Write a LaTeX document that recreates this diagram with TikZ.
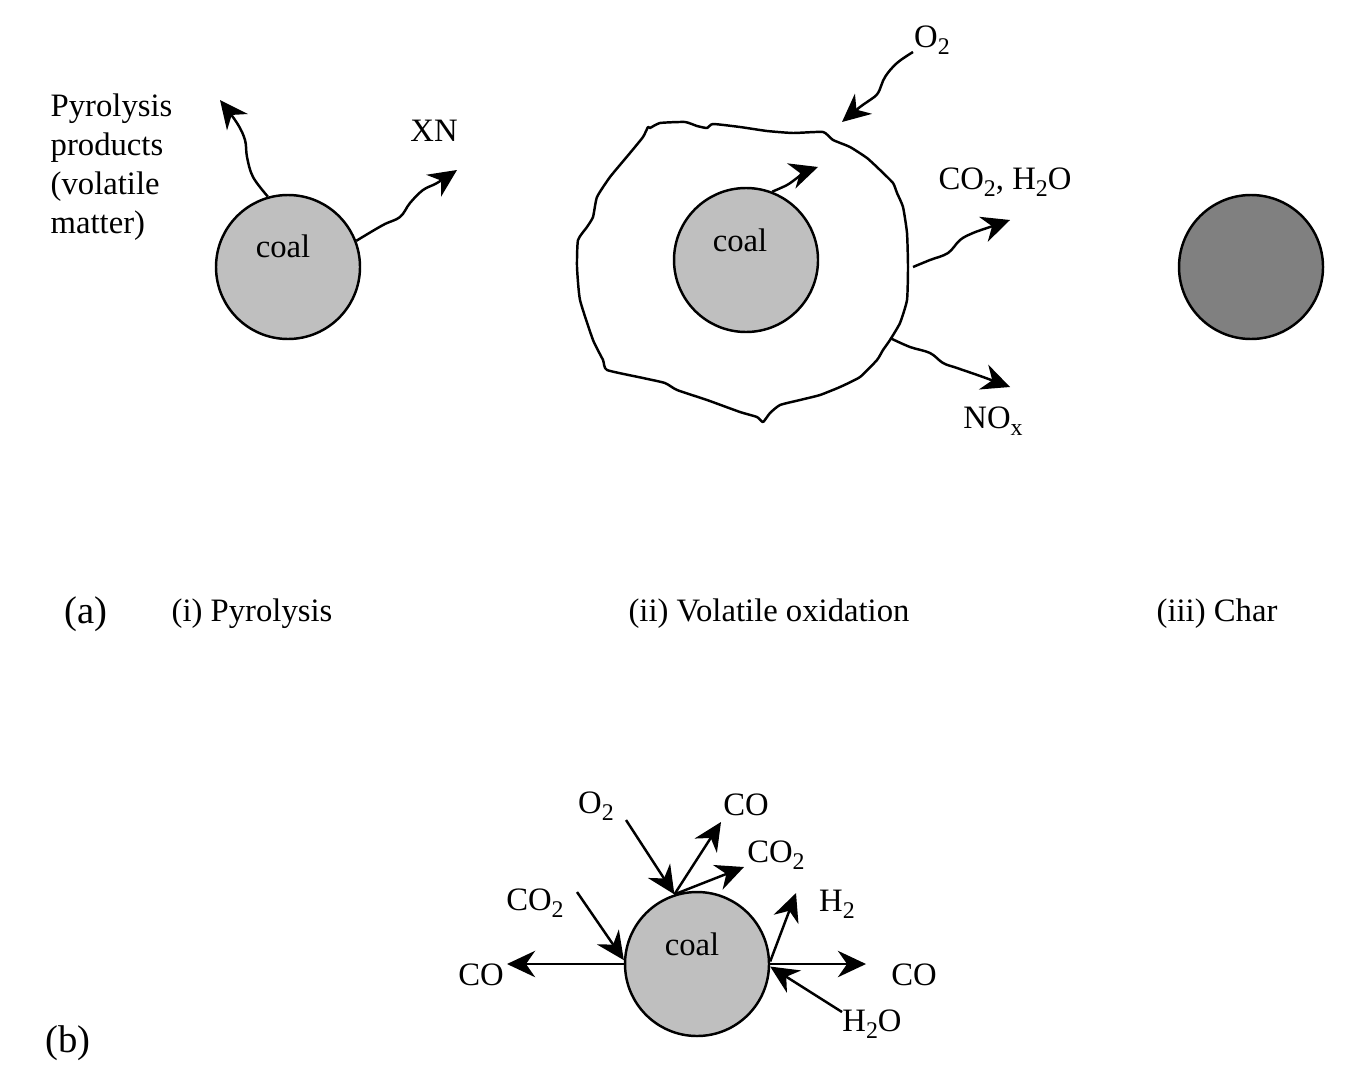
\documentclass[tikz,border=0pt]{standalone}
\usepackage{fontspec}
\setmainfont{Liberation Serif}
\usetikzlibrary{arrows.meta}

\newcommand{\chsub}[1]{\raisebox{-0.45ex}{\fontsize{6.8}{7}\selectfont #1}}

\begin{document}
\begin{tikzpicture}[
  grain/.style={circle, draw, line width=0.7pt, fill=black!25, minimum size=1.44cm, inner sep=0pt},
  arr/.style={-{Stealth[length=8pt, width=7.5pt, inset=2.6pt]}, line width=0.7pt},
  txt/.style={font=\fontsize{9.3}{11.1}\selectfont, inner sep=0pt},
  big/.style={font=\fontsize{11}{13}\selectfont, inner sep=0pt}
]
\useasboundingbox (0,0) rectangle (13.49,10.70);

% (i) pyrolysis
\node[grain] (coalI) at (2.88,8.03) {};
\node[txt] (coalItxt) at (2.83,8.24) {coal};
\node[txt, align=left, anchor=west] (pyroProd) at (0.50,9.03) {Pyrolysis\\products\\(volatile\\matter)};
\node[txt] (xn) at (4.34,9.39) {XN};
\coordinate (pyroTip) at (2.20,9.70);
\coordinate (xnTip) at (4.57,9.00);

\draw[arr] plot[smooth, tension=0.6] coordinates {(coalI.106) (2.53,8.93) (2.47,9.13) (2.45,9.30) (2.37,9.47) (pyroTip)};
\draw[arr] plot[smooth, tension=0.6] coordinates {(coalI.21) (3.83,8.45) (4.00,8.53) (4.10,8.67) (4.23,8.80) (4.37,8.87) (xnTip)};

% (ii) volatile oxidation
\node[grain] (coalII) at (7.46,8.10) {};
\node[txt] (coalIItxt) at (7.40,8.30) {coal};
\draw[line width=0.7pt, line join=round] plot[smooth cycle, tension=0.3] coordinates {
  (6.50,9.42) (6.60,9.47) (6.85,9.48) (6.97,9.44) (7.07,9.42) (7.13,9.46) (7.40,9.43)
  (7.67,9.39) (7.93,9.37) (8.23,9.38) (8.33,9.30) (8.50,9.23) (8.67,9.12) (8.80,9.00)
  (8.93,8.87) (8.97,8.77) (9.03,8.63) (9.07,8.37) (9.08,8.03) (9.07,7.70) (9.00,7.47)
  (8.90,7.30) (8.83,7.20) (8.77,7.10) (8.60,6.93) (8.40,6.83) (8.20,6.75) (8.00,6.70)
  (7.80,6.65) (7.70,6.57) (7.63,6.48) (7.57,6.53) (7.40,6.58) (7.07,6.70) (6.77,6.80)
  (6.65,6.87) (6.43,6.92) (6.07,7.00) (6.03,7.10) (5.93,7.30) (5.80,7.70) (5.77,8.03)
  (5.78,8.30) (5.87,8.43) (5.93,8.53) (5.97,8.73) (6.10,8.93) (6.30,9.17) (6.43,9.33)
  (6.48,9.43)};
\node[txt] (o2) at (9.32,10.30) {O\chsub{2}};
\node[txt] (co2h2o) at (10.05,8.88) {CO\chsub{2}, H\chsub{2}O};
\node[txt] (nox) at (9.93,6.49) {NO\chsub{x}};
\coordinate (innerTip) at (8.18,9.03);
\coordinate (o2Start) at (9.13,10.18);
\coordinate (o2Tip) at (8.42,9.48);
\coordinate (shellE) at (9.13,8.03);
\coordinate (co2Tip) at (10.10,8.50);
\coordinate (shellSE) at (8.90,7.32);
\coordinate (noxTip) at (10.10,6.83);

\draw[arr] plot[smooth, tension=0.6] coordinates {(coalII.69) (7.87,8.85) (7.97,8.92) (8.05,8.98) (innerTip)};
\draw[arr] plot[smooth, tension=0.6] coordinates {(o2Start) (8.97,10.07) (8.85,9.93) (8.78,9.77) (8.70,9.70) (8.60,9.63) (o2Tip)};
\draw[arr] plot[smooth, tension=0.6] coordinates {(shellE) (9.30,8.10) (9.48,8.17) (9.60,8.30) (9.73,8.37) (9.90,8.43) (co2Tip)};
\draw[arr] plot[smooth, tension=0.6] coordinates {(shellSE) (9.10,7.23) (9.30,7.17) (9.43,7.07) (9.57,7.02) (9.83,6.93) (noxTip)};

% (iii) char
\node[grain, fill=black!50] (charIII) at (12.51,8.03) {};

% captions
\node[big] (capA) at (0.86,4.56) {(a)};
\node[txt] (capI) at (2.52,4.56) {(i) Pyrolysis};
\node[txt] (capII) at (7.69,4.56) {(ii) Volatile oxidation};
\node[txt] (capIII) at (12.17,4.56) {(iii) Char};
\node[big] (capB) at (0.68,0.27) {(b)};

% (b) char gasification
\node[grain] (coalG) at (6.97,1.06) {};
\node[txt] (coalGtxt) at (6.92,1.26) {coal};
\node[txt] (o2G) at (5.96,2.64) {O\chsub{2}};
\node[txt] (coTop) at (7.46,2.65) {CO};
\node[txt] (co2Top) at (7.76,2.15) {CO\chsub{2}};
\node[txt] (co2Left) at (5.35,1.67) {CO\chsub{2}};
\node[txt] (coLeft) at (4.81,0.95) {CO};
\node[txt] (h2G) at (8.37,1.66) {H\chsub{2}};
\node[txt] (coRight) at (9.14,0.95) {CO};
\node[txt] (h2oG) at (8.72,0.46) {H\chsub{2}O};
\coordinate (o2GStart) at (6.26,2.50);
\coordinate (coTopTip) at (7.21,2.48);
\coordinate (co2TopTip) at (7.44,2.03);
\coordinate (co2LeftStart) at (5.77,1.78);
\coordinate (coLeftTip) at (5.07,1.06);
\coordinate (h2Tip) at (7.96,1.77);
\coordinate (coRightTip) at (8.66,1.06);
\coordinate (h2oStart) at (8.42,0.58);

\draw[arr] (o2GStart) -- (coalG.108);
\draw[arr] (coalG.108) -- (coTopTip);
\draw[arr] (coalG.108) -- (co2TopTip);
\draw[arr] (co2LeftStart) -- (coalG.177);
\draw[arr] (coalG.180) -- (coLeftTip);
\draw[arr] (coalG.2) -- (h2Tip);
\draw[arr] (coalG.0) -- (coRightTip);
\draw[arr] (h2oStart) -- (coalG.358);
\end{tikzpicture}
\end{document}
